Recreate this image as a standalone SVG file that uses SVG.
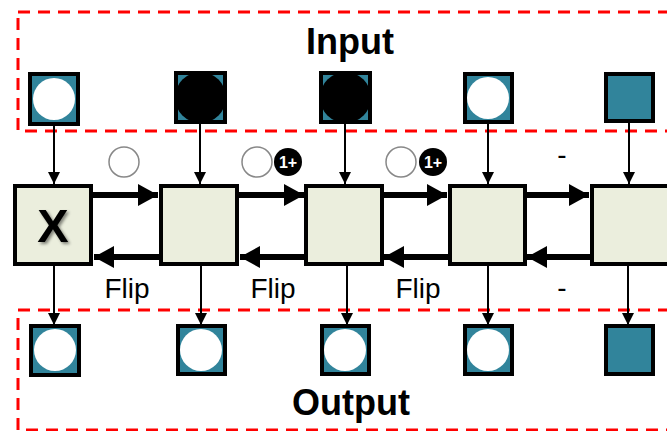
<svg xmlns="http://www.w3.org/2000/svg" width="667" height="431" viewBox="0 0 667 431">
<style>
.zone{fill:none;stroke:#FF0000;stroke-width:3;stroke-dasharray:12 8}
.sq{fill:#31849B;stroke:#000;stroke-width:4}
.edge{fill:none;stroke:#000;stroke-width:4}
.box{fill:#EBEEDD;stroke:#000;stroke-width:4}
.thin{stroke:#000;stroke-width:2;fill:none}
.thick{stroke:#000;stroke-width:6;fill:none}
.title{font-family:"Liberation Sans",Arial,sans-serif;font-weight:bold;font-size:36px;text-anchor:middle;fill:#000}
.lbl{font-family:"Liberation Sans",Arial,sans-serif;font-size:28px;text-anchor:middle;fill:#000}
.oc{fill:#fff;stroke:#888;stroke-width:1.5}
.bc{fill:#000}
.bt{font-family:"Liberation Sans",Arial,sans-serif;font-weight:bold;font-size:16px;text-anchor:middle;fill:#fff}
</style>
<defs>
<marker id="ah" markerUnits="userSpaceOnUse" markerWidth="12" markerHeight="12" refX="11" refY="5.5" orient="auto" viewBox="0 0 11 11">
<path d="M0,0 L11,5.5 L0,11 Z" fill="#000"/>
</marker>
<marker id="bh" markerUnits="userSpaceOnUse" markerWidth="20" markerHeight="22" refX="20" refY="11" orient="auto" viewBox="0 0 20 22">
<path d="M0,0 L20,11 L0,22 Z" fill="#000"/>
</marker>
<filter id="sh" x="-20%" y="-20%" width="150%" height="150%">
<feDropShadow dx="2" dy="2" stdDeviation="1.5" flood-color="#000" flood-opacity="0.45"/>
</filter>
</defs>

<g id="zones">
<rect class="zone" x="18" y="12" width="680" height="119"/>
<rect class="zone" x="18" y="310" width="680" height="120"/>
</g>

<g id="titles">
<text class="title" x="350" y="54">Input</text>
<text class="title" x="351" y="415">Output</text>
</g>

<g id="connectors">
<line class="thin" x1="54" y1="125" x2="54" y2="184" marker-end="url(#ah)"/>
<line class="thin" x1="200" y1="124" x2="200" y2="184" marker-end="url(#ah)"/>
<line class="thin" x1="345" y1="124" x2="345" y2="184" marker-end="url(#ah)"/>
<line class="thin" x1="488" y1="124" x2="488" y2="184" marker-end="url(#ah)"/>
<line class="thin" x1="629" y1="123" x2="629" y2="184" marker-end="url(#ah)"/>
<line class="thin" x1="54" y1="266" x2="54" y2="325" marker-end="url(#ah)"/>
<line class="thin" x1="201" y1="266" x2="201" y2="325" marker-end="url(#ah)"/>
<line class="thin" x1="347" y1="266" x2="347" y2="325" marker-end="url(#ah)"/>
<line class="thin" x1="488" y1="266" x2="488" y2="325" marker-end="url(#ah)"/>
<line class="thin" x1="628" y1="266" x2="628" y2="325" marker-end="url(#ah)"/>
<line class="thick" x1="93" y1="195" x2="158" y2="195" marker-end="url(#bh)"/>
<line class="thick" x1="239" y1="195" x2="304" y2="195" marker-end="url(#bh)"/>
<line class="thick" x1="383" y1="195" x2="447" y2="195" marker-end="url(#bh)"/>
<line class="thick" x1="526" y1="195" x2="589" y2="195" marker-end="url(#bh)"/>
<line class="thick" x1="159" y1="257" x2="94" y2="257" marker-end="url(#bh)"/>
<line class="thick" x1="305" y1="257" x2="240" y2="257" marker-end="url(#bh)"/>
<line class="thick" x1="448" y1="257" x2="384" y2="257" marker-end="url(#bh)"/>
<line class="thick" x1="591" y1="257" x2="527" y2="257" marker-end="url(#bh)"/>
</g>

<g id="in1"><rect class="sq" x="30" y="74" width="48" height="50"/><circle cx="54" cy="99" r="21" fill="#fff"/></g>
<g id="in2"><rect class="sq" x="176" y="73" width="49" height="49"/><circle cx="200.5" cy="97.5" r="25.5" fill="#000"/><rect class="edge" x="176" y="73" width="49" height="49"/></g>
<g id="in3"><rect class="sq" x="321" y="73" width="49" height="49"/><circle cx="345.5" cy="97.5" r="25.5" fill="#000"/><rect class="edge" x="321" y="73" width="49" height="49"/></g>
<g id="in4"><rect class="sq" x="465" y="74" width="47" height="48"/><circle cx="488" cy="98" r="21" fill="#fff"/></g>
<g id="in5"><rect class="sq" x="606" y="74" width="47" height="47"/></g>

<g id="n1"><rect class="box" x="15" y="186" width="76" height="78"/>
<text x="53" y="242" font-family="Liberation Sans,Arial,sans-serif" font-weight="bold" font-size="47" text-anchor="middle" fill="#000" filter="url(#sh)">X</text></g>
<g id="n2"><rect class="box" x="161" y="186" width="76" height="78"/></g>
<g id="n3"><rect class="box" x="306" y="186" width="76" height="78"/></g>
<g id="n4"><rect class="box" x="450" y="186" width="75" height="78"/></g>
<g id="n5"><rect class="box" x="592" y="186" width="80" height="78"/></g>

<g id="out1"><rect class="sq" x="31" y="326" width="48" height="49"/><circle cx="55" cy="350" r="21" fill="#fff"/></g>
<g id="out2"><rect class="sq" x="178" y="326" width="47" height="48"/><circle cx="201" cy="350" r="21" fill="#fff"/></g>
<g id="out3"><rect class="sq" x="322" y="326" width="47" height="48"/><circle cx="345" cy="350" r="21" fill="#fff"/></g>
<g id="out4"><rect class="sq" x="465" y="326" width="47" height="48"/><circle cx="488" cy="350" r="21" fill="#fff"/></g>
<g id="out5"><rect class="sq" x="606" y="326" width="47" height="48"/></g>

<g id="labels">
<circle class="oc" cx="124" cy="162" r="15"/>
<circle class="oc" cx="257" cy="162" r="15"/>
<circle class="bc" cx="288" cy="162" r="14"/>
<text class="bt" x="288" y="168">1+</text>
<circle class="oc" cx="401" cy="162" r="15"/>
<circle class="bc" cx="433" cy="162" r="14"/>
<text class="bt" x="433" y="168">1+</text>
<text class="lbl" x="562" y="164">-</text>
<text class="lbl" x="127" y="298">Flip</text>
<text class="lbl" x="273" y="298">Flip</text>
<text class="lbl" x="418" y="298">Flip</text>
<text class="lbl" x="562" y="297">-</text>
</g>
</svg>
